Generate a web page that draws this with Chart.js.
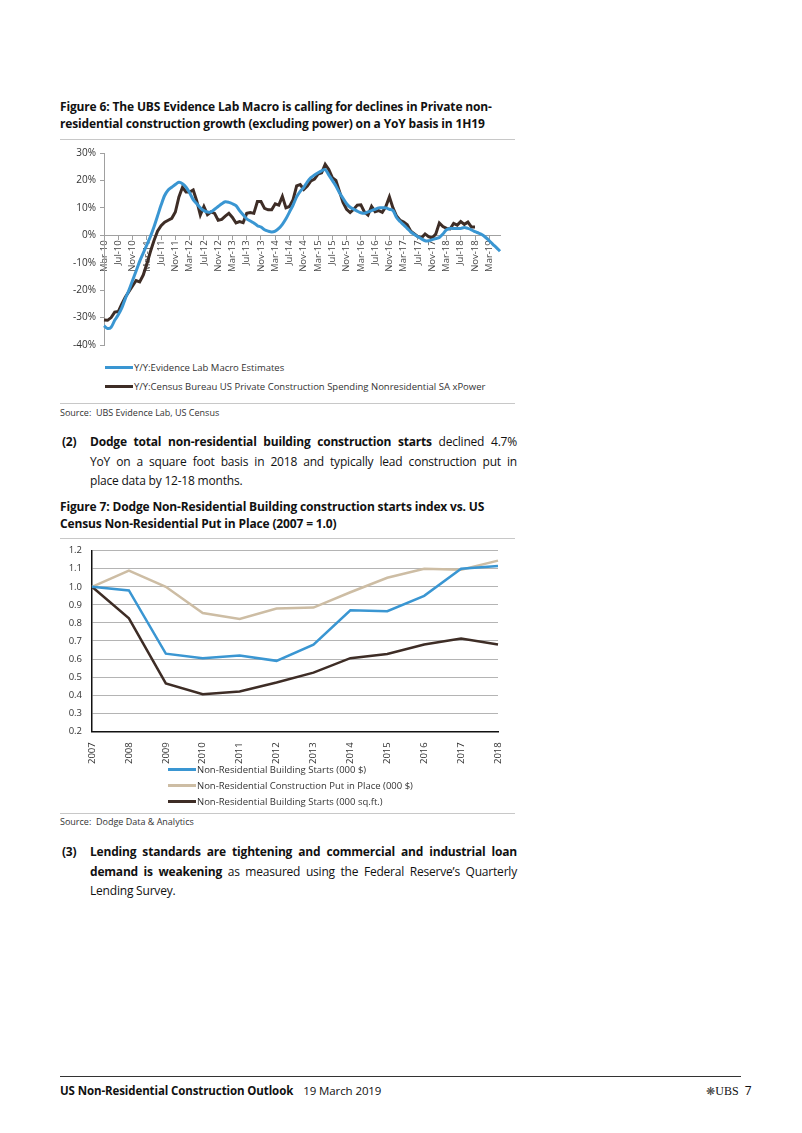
<!DOCTYPE html>
<html lang="en">
<head>
<meta charset="UTF-8">
<title>US Non-Residential Construction Outlook</title>
<script src="https://cdn.jsdelivr.net/npm/chart.js"></script>
<style>
  body { margin: 0; background: #fff; font-family: "Open Sans", "Noto Sans", sans-serif; color: #111; }
  .page { position: relative; width: 802px; height: 1133px; overflow: hidden; }
  .abs { position: absolute; }
  .fig { left: 60px; font-weight: bold; font-size: 12px; line-height: 17px; white-space: nowrap; letter-spacing: -0.15px; }
  .rule { left: 60px; width: 455px; height: 1px; background: #c8c8c8; }
  .src { left: 60px; font-size: 9px; color: #333; }
  .para { left: 60px; width: 457px; font-size: 12px; line-height: 19.5px; letter-spacing: -0.2px; }
  .para .num { position: absolute; left: 2px; top: 0; font-weight: bold; }
  .para .ln { margin-left: 30px; text-align: justify; text-align-last: justify; white-space: nowrap; }
  .para .ln.last { text-align-last: left; }
  .legend { font-size: 9.5px; color: #333; }
  .legend div { height: 19px; display: flex; align-items: center; }
  .legend span.sw { display: inline-block; width: 28px; height: 3px; margin-right: 1px; }
</style>
</head>
<body>
<div class="page">

  <div class="abs fig" style="top:98px">Figure 6: The UBS Evidence Lab Macro is calling for declines in Private non-<br>residential construction growth (excluding power) on a YoY basis in 1H19</div>
  <div class="abs rule" style="top:139px"></div>

  <div class="abs" style="left:60px; top:140px; width:460px; height:215px;">
    <canvas id="chart1"></canvas>
  </div>

  <div class="abs legend" style="left:105px; top:358px;">
    <div><span class="sw" style="background:#3a96d2"></span>Y/Y:Evidence Lab Macro Estimates</div>
    <div><span class="sw" style="background:#3e2d26"></span>Y/Y:Census Bureau US Private Construction Spending Nonresidential SA xPower</div>
  </div>
  <div class="abs rule" style="top:403px"></div>
  <div class="abs src" style="top:406px">Source:&nbsp; UBS Evidence Lab, US Census</div>

  <div class="abs para" style="top:432px">
    <span class="num">(2)</span>
    <div class="ln"><b>Dodge total non-residential building construction starts</b> declined 4.7%</div>
    <div class="ln">YoY on a square foot basis in 2018 and typically lead construction put in</div>
    <div class="ln last">place data by 12-18 months.</div>
  </div>

  <div class="abs fig" style="top:498px">Figure 7: Dodge Non-Residential Building construction starts index vs. US<br>Census Non-Residential Put in Place (2007 = 1.0)</div>
  <div class="abs rule" style="top:538px"></div>

  <div class="abs" style="left:60px; top:535px; width:460px; height:232px;">
    <canvas id="chart2"></canvas>
  </div>

  <div class="abs legend" style="left:168px; top:761px;">
    <div style="height:16px"><span class="sw" style="background:#3a96d2"></span>Non-Residential Building Starts (000 $)</div>
    <div style="height:16px"><span class="sw" style="background:#cdbda4"></span>Non-Residential Construction Put in Place (000 $)</div>
    <div style="height:16px"><span class="sw" style="background:#3e2d26"></span>Non-Residential Building Starts (000 sq.ft.)</div>
  </div>
  <div class="abs rule" style="top:813px"></div>
  <div class="abs src" style="top:815px">Source:&nbsp; Dodge Data &amp; Analytics</div>

  <div class="abs para" style="top:842px">
    <span class="num">(3)</span>
    <div class="ln"><b>Lending standards are tightening and commercial and industrial loan</b></div>
    <div class="ln"><b>demand is weakening</b> as measured using the Federal Reserve’s Quarterly</div>
    <div class="ln last">Lending Survey.</div>
  </div>

  <div class="abs" style="left:60px; top:1076px; width:681px; height:1px; background:#333;"></div>
  <div class="abs" style="left:60px; top:1083px; font-size:11.5px; letter-spacing:-0.1px; white-space:nowrap;"><b>US Non-Residential Construction Outlook</b><span style="margin-left:10px">19 March 2019</span></div>
  <div class="abs" style="left:706px; top:1082px; font-size:12px;"><span style="font-family:'DejaVu Sans'; font-size:11px; color:#444">❋</span><span style="font-family:'Liberation Serif'; font-size:12px">UBS</span>&nbsp; 7</div>

</div>

<script>
  // Figure 6 - monthly, Mar-10 .. Jun-19
  const nomesMes = ['Jan','Feb','Mar','Apr','May','Jun','Jul','Aug','Sep','Oct','Nov','Dec'];
  const meses = [];
  for (let i = 0; i < 112; i++) {
    const m = (2 + i) % 12;
    const a = 10 + Math.floor((2 + i) / 12);
    meses.push(nomesMes[m] + '-' + a);
  }

  const evidenceLab = [
    -33, -34, -33.5, -31, -29, -26.5, -23, -20, -16.5, -13,
    -9.5, -6.5, -3.5, -0.5, 3, 7, 11, 14.5, 16.5, 17.5,
    18.5, 19.3, 18.8, 17.5, 15.5, 13, 11.5, 10, 9, 8.5,
    8.5, 9.5, 10.5, 11.5, 12.2, 12, 11.5, 10.8, 9, 7.5,
    6, 5.2, 4.5, 3.5, 3, 2, 1.5, 1.2, 1.5, 2.5,
    4, 6, 8.5, 11, 14, 16, 17.5, 19.5, 21, 22,
    22.8, 23.5, 24, 22, 20, 18, 15.5, 13.5, 11.5, 10.2,
    9.5, 8.8, 8.2, 8, 8.5, 9, 9.5, 10, 10, 10,
    9.5, 9, 6.5, 5, 3.8, 2.5, 1.2, 0.3, -0.5, -1.3,
    -2, -2, -1.6, -1.2, -0.8, 0.5, 2, 2.5, 2.5, 2.5,
    2.5, 2.8, 2.5, 2, 1.3, 0.8, 0.2, -0.8, -2, -3.3,
    -4.5, -5.8
  ];

  const census = [
    -30.9, -31, -30, -28, -27.8, -25, -22.5, -20.5, -18.5, -16.5,
    -17, -14.5, -10.5, -6, -2, 1.5, 3.5, 4.8, 5.5, 6.2,
    8.5, 14, 17.5, 15.8, 15.8, 16.5, 12.5, 7.4, 10.5, 7.5,
    8.5, 8, 5.5, 5.8, 7, 8, 6.5, 4.5, 5, 4.6,
    8, 8.3, 8, 12.3, 12.3, 9.8, 9.3, 9.3, 11.5, 11,
    14.2, 10, 10.5, 13, 18, 18.5, 16.7, 18, 19.8, 20.5,
    22.3, 22.8, 25.9, 24, 21, 20, 16, 12, 9.5, 8.3,
    9.5, 11, 11.1, 8.5, 7.4, 10.5, 8.6, 9, 8.4, 10.5,
    14, 10, 7, 5.5, 4.8, 3.8, 1.5, 0.5, -0.5, -0.9,
    0.5, -0.5, -1, 0.5, 4.5, 3.2, 2.5, 2.3, 4.3, 3.7,
    5, 4, 4.8, 3, 3
  ];

  const ticksPct = [-40, -30, -20, -10, 0, 10, 20, 30];

  // Figure 7 - annual index, 2007 = 1.0
  const anos = ['2007','2008','2009','2010','2011','2012','2013','2014','2015','2016','2017','2018'];
  const startsDolar = [1.0, 0.98, 0.63, 0.605, 0.62, 0.59, 0.68, 0.87, 0.865, 0.95, 1.1, 1.115];
  const putInPlace = [1.0, 1.09, 1.0, 0.855, 0.822, 0.88, 0.885, 0.97, 1.05, 1.1, 1.095, 1.145];
  const startsSqft = [1.0, 0.825, 0.465, 0.405, 0.42, 0.47, 0.525, 0.605, 0.628, 0.68, 0.713, 0.68];

  const azul = '#3a96d2';
  const marrom = '#3e2d26';
  const bege = '#cdbda4';

  Chart.defaults.font.family = '"Open Sans", "Noto Sans", sans-serif';
  Chart.defaults.animation = false;

  new Chart(document.getElementById('chart1'), {
    type: 'line',
    data: {
      labels: meses,
      datasets: [
        { label: 'Y/Y:Evidence Lab Macro Estimates', data: evidenceLab, borderColor: azul, borderWidth: 3, pointRadius: 0, tension: 0.3 },
        { label: 'Y/Y:Census Bureau US Private Construction Spending Nonresidential SA xPower', data: census, borderColor: marrom, borderWidth: 3, pointRadius: 0, tension: 0 }
      ]
    },
    options: {
      responsive: true,
      maintainAspectRatio: false,
      layout: { padding: { top: 13, right: 20, bottom: 6, left: 0 } },
      plugins: { legend: { display: false }, tooltip: { enabled: false } },
      scales: {
        x: {
          position: { y: 0 },
          offset: false,
          border: { color: '#a0a0a0', width: 1 },
          grid: {
            drawOnChartArea: false,
            tickLength: 4,
            color: ctx => (ctx.index % 4 === 0 ? '#a0a0a0' : 'rgba(0,0,0,0)')
          },
          ticks: {
            autoSkip: false,
            maxRotation: 90,
            minRotation: 90,
            color: '#444',
            font: { size: 9.5 },
            padding: 1,
            callback: (v, i) => (i % 4 === 0 ? meses[i] : '')
          }
        },
        y: {
          min: -40,
          max: 30,
          afterFit: s => { s.width = 44; },
          afterBuildTicks: s => { s.ticks = ticksPct.map(v => ({ value: v })); },
          border: { color: '#a0a0a0', width: 1 },
          grid: { drawOnChartArea: false, tickLength: 4, color: '#a0a0a0' },
          ticks: { color: '#333', font: { size: 10 }, padding: 4, callback: v => v + '%' }
        }
      }
    }
  });

  new Chart(document.getElementById('chart2'), {
    type: 'line',
    data: {
      labels: anos,
      datasets: [
        { label: 'Non-Residential Building Starts (000 $)', data: startsDolar, borderColor: azul, borderWidth: 2.5, pointRadius: 0, tension: 0 },
        { label: 'Non-Residential Construction Put in Place (000 $)', data: putInPlace, borderColor: bege, borderWidth: 2.5, pointRadius: 0, tension: 0 },
        { label: 'Non-Residential Building Starts (000 sq.ft.)', data: startsSqft, borderColor: marrom, borderWidth: 2.5, pointRadius: 0, tension: 0 }
      ]
    },
    options: {
      responsive: true,
      maintainAspectRatio: false,
      layout: { padding: { top: 4, right: 22, bottom: 0, left: 0 } },
      plugins: { legend: { display: false }, tooltip: { enabled: false } },
      scales: {
        x: {
          offset: false,
          border: { color: '#111', width: 1.5 },
          grid: { display: false },
          ticks: { maxRotation: 90, minRotation: 90, color: '#333', font: { size: 9.5 }, padding: 3 }
        },
        y: {
          min: 0.2,
          max: 1.2,
          afterFit: s => { s.width = 32; },
          border: { color: '#111', width: 1.5 },
          grid: { color: '#b4b4b4', lineWidth: 1, drawTicks: false },
          ticks: { stepSize: 0.1, color: '#333', font: { size: 9.5 }, padding: 10, callback: v => v.toFixed(1) }
        }
      }
    }
  });
</script>
</body>
</html>
